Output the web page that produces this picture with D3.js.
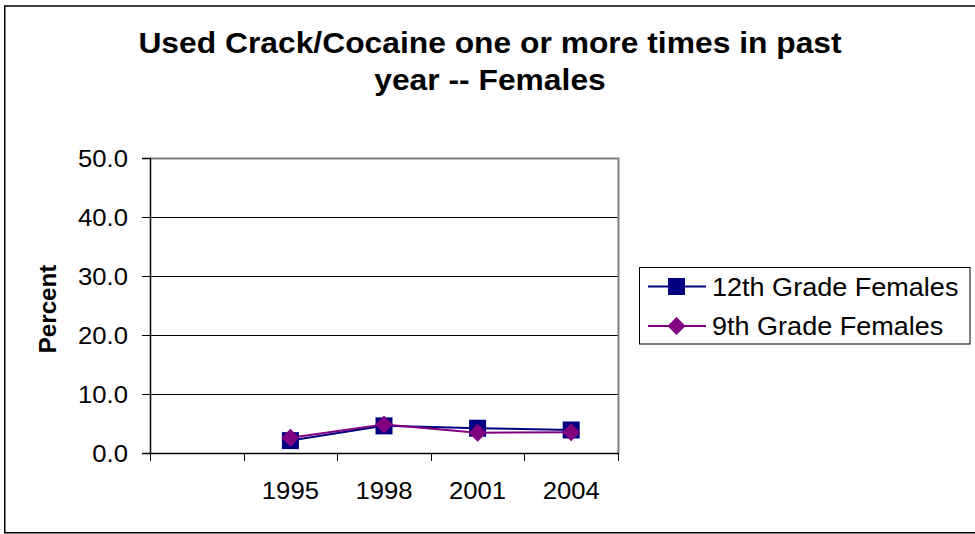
<!DOCTYPE html>
<html><head><meta charset="utf-8">
<script src="https://cdn.jsdelivr.net/npm/d3@7"></script>
<style>body{margin:0;background:#fff}svg{display:block}text{font-family:"Liberation Sans",Arial,sans-serif}</style>
</head><body><svg id="c" width="975" height="534"></svg>
<script>
const categories = ["", "1995", "1998", "2001", "2004"];
const grade12 = [null, 2.1, 4.6, 4.2, 3.9];
const grade9 = [null, 2.6, 4.85, 3.45, 3.5];
const yTicks = [0, 10, 20, 30, 40, 50];
const seriesNames = ["12th Grade Females", "9th Grade Females"];
const seriesColors = ["#000080", "#800080"];
const titleLines = ["Used Crack/Cocaine one or more times in past", "year -- Females"];

const svg = d3.select("#c");
const L = 150, R = 618, T = 158, B = 453;
svg.append("rect").attr("x",4.75).attr("y",6).attr("width",980).attr("height",526.75)
  .attr("fill","#fff").attr("stroke","#000").attr("stroke-width",1.5);

const x = d3.scaleBand().domain(categories.map((d,i)=>i)).range([L,R]);
const y = d3.scaleLinear().domain([0,50]).range([B,T]);

function stext(g, px, py, str, size, sx, anchor, weight){
  return g.append("text").attr("transform",`translate(${px},${py}) scale(${sx},1)`)
    .attr("font-size",size).attr("text-anchor",anchor||"start").attr("font-weight",weight||"normal").text(str);
}

// grid
svg.append("g").selectAll("line").data(yTicks.filter(d=>d>0&&d<50)).join("line")
  .attr("x1",L).attr("x2",R).attr("y1",d=>Math.round(y(d))+0.5).attr("y2",d=>Math.round(y(d))+0.5)
  .attr("stroke","#000").attr("stroke-width",1);
svg.append("path").attr("d",`M${L},${T+0.5}H${R+0.5}V${B}`).attr("fill","none").attr("stroke","#808080").attr("stroke-width",2);

// y axis
const ya = svg.append("g").attr("transform",`translate(${L},0)`)
  .call(d3.axisLeft(y).tickValues(yTicks).tickFormat(d3.format(".1f")).tickSize(8));
ya.select(".domain").attr("stroke","#000").attr("stroke-width",1.5);
ya.selectAll(".tick line").attr("stroke","#000");
ya.selectAll(".tick text").attr("x",null).attr("dy",null).attr("transform","translate(-22,8.5) scale(1.07,1)")
  .attr("font-size",24).attr("fill","#000").attr("font-family",null);

// x axis
const xa = svg.append("g").attr("transform",`translate(0,${B})`)
  .call(d3.axisBottom(x).tickFormat(i=>categories[i]).tickSize(0));
xa.select(".domain").attr("stroke","#000").attr("stroke-width",1.5);
xa.selectAll(".tick text").attr("y",null).attr("dy",null).attr("transform","translate(0,46) scale(1.07,1)")
  .attr("font-size",24).attr("fill","#000").attr("font-family",null);
const bounds = d3.range(categories.length+1).map(i=> i<categories.length ? x(i) : x(categories.length-1)+x.bandwidth());
svg.append("g").selectAll("line").data(bounds).join("line")
  .attr("x1",d=>Math.round(d)+0.5).attr("x2",d=>Math.round(d)+0.5).attr("y1",B).attr("y2",B+8).attr("stroke","#000");

// series
const cx = i => x(i)+x.bandwidth()/2;
const data = [grade12, grade9];
const line = d3.line().defined(d=>d.v!=null).x(d=>cx(d.i)).y(d=>y(d.v));
data.forEach((s,k)=>{
  const pts = s.map((v,i)=>({v,i}));
  svg.append("path").attr("d",line(pts)).attr("fill","none").attr("stroke",seriesColors[k]).attr("stroke-width",2);
});
function marker(g,k,px,py){
  if(k===0) g.append("rect").attr("x",px-8.5).attr("y",py-8.5).attr("width",17).attr("height",17).attr("fill",seriesColors[0]);
  else g.append("path").attr("d",`M${px},${py-9}L${px+9},${py}L${px},${py+9}L${px-9},${py}Z`).attr("fill",seriesColors[1]);
}
data.forEach((s,k)=>{
  const g = svg.append("g");
  s.forEach((v,i)=>{ if(v!=null) marker(g,k,cx(i),y(v)); });
});

// title
titleLines.forEach((t,i)=> stext(svg, 490, 53+i*37, t, 30, 1.06, "middle", "bold"));

// y label
svg.append("text").attr("transform","translate(56,309) rotate(-90) scale(1.05,1)").attr("text-anchor","middle")
  .attr("font-size",23).attr("font-weight","bold").text("Percent");

// legend
svg.append("rect").attr("x",639.5).attr("y",267.5).attr("width",330.5).attr("height",76.5).attr("fill","#fff").attr("stroke","#000").attr("stroke-width",1);
seriesNames.forEach((n,k)=>{
  const ly = 286.5 + k*39.5;
  svg.append("line").attr("x1",648).attr("x2",706).attr("y1",ly).attr("y2",ly).attr("stroke",seriesColors[k]).attr("stroke-width",2);
  marker(svg,k,676.5,ly);
  stext(svg, 712, ly+9.3, n, 26, 1.04, "start");
});
</script></body></html>
